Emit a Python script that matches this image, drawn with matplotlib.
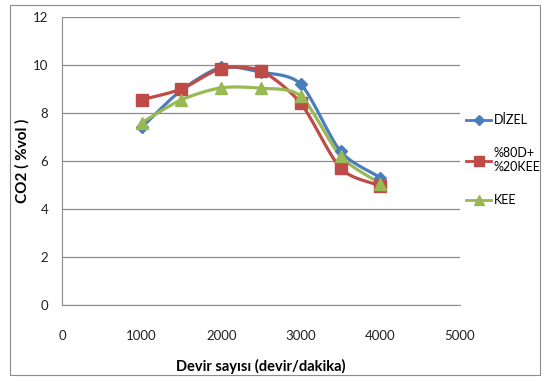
import numpy as np
import matplotlib
matplotlib.use("Agg")
from matplotlib import pyplot as plt
from matplotlib.patches import Rectangle

rpm = [1000, 1500, 2000, 2500, 3000, 3500, 4000]
dizel = [7.4, 8.95, 9.9, 9.7, 9.2, 6.4, 5.3]
d80_kee20 = [8.55, 9.0, 9.85, 9.75, 8.4, 5.7, 4.95]
kee = [7.6, 8.55, 9.05, 9.03, 8.7, 6.2, 5.05]

labels = ["DİZEL", "%80D+\n%20KEE", "KEE"]
colors = ["#4A7EBB", "#BE4B48", "#98B954"]
markers = ["D", "s", "^"]
msizes = [6, 8, 8]

plt.rcParams["font.family"] = ["Lato", "DejaVu Sans"]


def smooth(x, y, n=20):
    # catmull-rom style curve like excel "smoothed line"
    x = np.asarray(x, float)
    y = np.asarray(y, float)
    px = np.concatenate([[2 * x[0] - x[1]], x, [2 * x[-1] - x[-2]]])
    py = np.concatenate([[2 * y[0] - y[1]], y, [2 * y[-1] - y[-2]]])
    xs, ys = [], []
    t = np.linspace(0, 1, n)
    for i in range(1, len(px) - 2):
        for p, out in ((px, xs), (py, ys)):
            p0, p1, p2, p3 = p[i - 1], p[i], p[i + 1], p[i + 2]
            m1 = (p2 - p0) / 2 * 0.8
            m2 = (p3 - p1) / 2 * 0.8
            h00 = 2 * t**3 - 3 * t**2 + 1
            h10 = t**3 - 2 * t**2 + t
            h01 = -2 * t**3 + 3 * t**2
            h11 = t**3 - t**2
            out.extend(h00 * p1 + h10 * m1 + h01 * p2 + h11 * m2)
    return xs, ys


fig = plt.figure(figsize=(5.49, 3.81), dpi=100)
fig.patches.append(Rectangle((10 / 549, 6 / 381), 530 / 549, 370 / 381,
                             transform=fig.transFigure, fill=False,
                             edgecolor="#8c8c8c", linewidth=0.8))

ax = fig.add_axes([62 / 549, 1 - 305 / 381, 398 / 549, 288 / 381])

handles = []
for ys, lab, c, m, ms in zip([dizel, d80_kee20, kee], labels, colors, markers, msizes):
    sx, sy = smooth(rpm, ys)
    ax.plot(sx, sy, color=c, linewidth=2.3, zorder=3)
    ax.plot(rpm, ys, linestyle="none", marker=m, markersize=ms, color=c, zorder=4)
    h, = ax.plot([], [], color=c, linewidth=2.0, marker=m, markersize=ms - 1)
    handles.append(h)

ax.set_xlim(0, 5000)
ax.set_ylim(0, 12)
ax.set_xticks(range(0, 5001, 1000))
ax.set_yticks(range(0, 13, 2))
ax.grid(axis="y", color="#8c8c8c", linewidth=0.9)
ax.set_axisbelow(True)
for s in ["top", "right"]:
    ax.spines[s].set_visible(False)
for s in ["left", "bottom"]:
    ax.spines[s].set_color("#8c8c8c")
ax.tick_params(length=0, labelsize=9.5, colors="#222222")
ax.tick_params(axis="x", pad=18)
ax.tick_params(axis="y", pad=10)

ax.set_xlabel("Devir sayısı (devir/dakika)", fontsize=10.5, fontweight="bold", labelpad=12)
ax.set_ylabel("CO2 ( %vol )", fontsize=11, fontweight="bold", labelpad=2)

fig.legend(handles, labels, loc="upper left", bbox_to_anchor=(466 / 549, 1 - 114 / 381),
           frameon=False, fontsize=9, handlelength=2.0, labelspacing=1.7,
           handletextpad=0.2, borderpad=0, borderaxespad=0)

fig.savefig("out.png", dpi=100)
